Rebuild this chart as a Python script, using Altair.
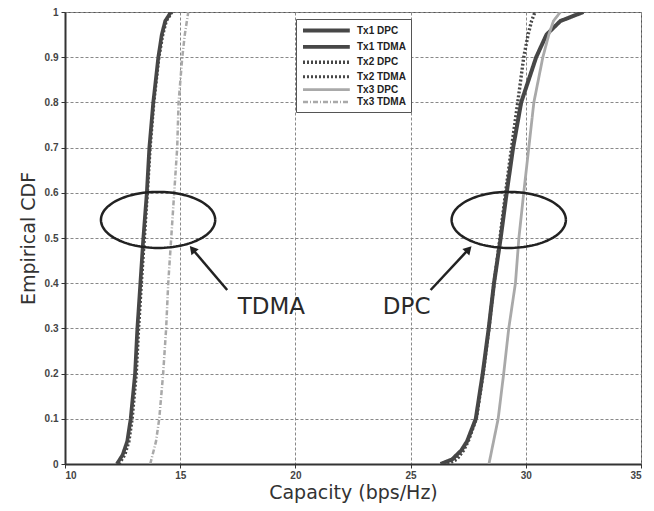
import altair as alt
import pandas as pd
import numpy as np

# ---- data ----
series_names = ["Tx1 DPC", "Tx1 TDMA", "Tx2 DPC", "Tx2 TDMA", "Tx3 DPC", "Tx3 TDMA"]

tx1_dpc_y = [0, 0.01, 0.03, 0.05, 0.1, 0.2, 0.3, 0.4, 0.5, 0.6, 0.7, 0.8, 0.9, 0.95, 0.98, 1.0]
tx1_dpc_x = [26.3, 26.8, 27.2, 27.45, 27.83, 28.13, 28.39, 28.62, 28.91, 29.17, 29.45, 29.8, 30.45, 30.9, 31.5, 32.5]

tx2_dpc_y = [0, 0.01, 0.03, 0.05, 0.1, 0.2, 0.3, 0.4, 0.5, 0.6, 0.7, 0.8, 0.9, 0.95, 0.98, 1.0]
tx2_dpc_x = [26.6, 27.0, 27.3, 27.5, 27.85, 28.15, 28.4, 28.62, 28.88, 29.12, 29.38, 29.65, 29.91, 30.1, 30.25, 30.4]

tx3_dpc_y = [0, 0.05, 0.1, 0.2, 0.3, 0.4, 0.5, 0.6, 0.7, 0.8, 0.9, 0.95, 0.98, 1.0]
tx3_dpc_x = [28.4, 28.6, 28.8, 29.04, 29.26, 29.55, 29.7, 29.91, 30.13, 30.35, 30.74, 31.0, 31.2, 31.5]

tx1_tdma_y = [0, 0.02, 0.05, 0.1, 0.2, 0.3, 0.4, 0.5, 0.6, 0.7, 0.8, 0.9, 0.95, 0.98, 1.0]
tx1_tdma_x = [12.25, 12.5, 12.7, 12.85, 13.04, 13.14, 13.27, 13.4, 13.55, 13.66, 13.83, 14.05, 14.2, 14.35, 14.6]

tx2_tdma_y = [0, 0.02, 0.05, 0.1, 0.2, 0.3, 0.4, 0.5, 0.6, 0.7, 0.8, 0.9, 0.95, 0.98, 1.0]
tx2_tdma_x = [12.35, 12.6, 12.78, 12.92, 13.1, 13.2, 13.32, 13.45, 13.58, 13.7, 13.86, 14.08, 14.25, 14.4, 14.65]

tx3_tdma_y = [0, 0.05, 0.1, 0.2, 0.3, 0.4, 0.5, 0.6, 0.7, 0.8, 0.9, 0.95, 1.0]
tx3_tdma_x = [13.7, 13.95, 14.09, 14.26, 14.39, 14.48, 14.61, 14.74, 14.87, 14.93, 15.09, 15.2, 15.35]

x_ticks = [10, 15, 20, 25, 30, 35]
y_ticks = [0, 0.1, 0.2, 0.3, 0.4, 0.5, 0.6, 0.7, 0.8, 0.9, 1.0]

# annotation parameters (data units)
ellipse_centers_x = [14.04, 29.26]
ellipse_center_y = 0.54
ellipse_rx = 2.48
ellipse_ry = 0.062
arrow_tail_x = [17.04, 25.87]
arrow_tip_x = [15.57, 27.48]
arrow_tail_y = 0.385
arrow_tip_y = 0.473
arrow_angles = [320, 43]
label_texts = ["TDMA", "DPC"]
label_x = [18.96, 24.83]
label_y = 0.347

# ---- build tables ----
rows = []
for name, xs, ys in [
    ("Tx1 DPC", tx1_dpc_x, tx1_dpc_y),
    ("Tx1 TDMA", tx1_tdma_x, tx1_tdma_y),
    ("Tx2 DPC", tx2_dpc_x, tx2_dpc_y),
    ("Tx2 TDMA", tx2_tdma_x, tx2_tdma_y),
    ("Tx3 DPC", tx3_dpc_x, tx3_dpc_y),
    ("Tx3 TDMA", tx3_tdma_x, tx3_tdma_y),
]:
    for i, (xv, yv) in enumerate(zip(xs, ys)):
        rows.append({"series": name, "cap": xv, "cdf": yv, "i": i})
df = pd.DataFrame(rows)

t = np.linspace(0, 2 * np.pi, 121)
ell_rows = []
for k, cx in enumerate(ellipse_centers_x):
    for i, tt in enumerate(t):
        ell_rows.append({"g": k, "i": i,
                         "x": cx + ellipse_rx * np.cos(tt),
                         "y": ellipse_center_y + ellipse_ry * np.sin(tt)})
ell_df = pd.DataFrame(ell_rows)

arr_df = pd.DataFrame({
    "x": arrow_tail_x, "y": [arrow_tail_y] * 2,
    "x2": arrow_tip_x, "y2": [arrow_tip_y] * 2,
    "angle": arrow_angles,
})
lab_df = pd.DataFrame({"text": label_texts, "x": label_x, "y": [label_y] * 2})

dark = "#474747"
light = "#a9a9a9"
colors = [dark, dark, dark, dark, light, light]
dashes = [[1, 0], [1, 0], [2, 2], [2, 2], [1, 0], [5, 2, 1, 2]]
widths = [4, 2.5, 2.5, 2.5, 2.5, 2.5]

xscale = alt.Scale(domain=[10, 35], nice=False, zero=False)
yscale = alt.Scale(domain=[0, 1], nice=False)

legend = alt.Legend(
    title=None, orient="none", legendX=231, legendY=7,
    symbolType="M-1,0H9.4", symbolSize=81, labelFont="Liberation Sans",
    labelFontSize=10, labelFontWeight="bold", labelColor="#222",
    fillColor="white", strokeColor="#555", padding=5, rowPadding=0.4,
    labelOffset=43, symbolOpacity=1,
)

lines = alt.Chart(df).mark_line(clip=True).encode(
    x=alt.X("cap:Q", scale=xscale,
            axis=alt.Axis(values=x_ticks, title="Capacity (bps/Hz)", format="d")),
    y=alt.Y("cdf:Q", scale=yscale,
            axis=alt.Axis(values=y_ticks, title="Empirical CDF", format="~g")),
    color=alt.Color("series:N", scale=alt.Scale(domain=series_names, range=colors), legend=legend),
    strokeDash=alt.StrokeDash("series:N", scale=alt.Scale(domain=series_names, range=dashes), legend=legend),
    strokeWidth=alt.StrokeWidth("series:N", scale=alt.Scale(domain=series_names, range=widths), legend=legend),
    order="i:Q",
    detail="series:N",
)

ellipses = alt.Chart(ell_df).mark_line(color="#222", strokeWidth=2.5).encode(
    x=alt.X("x:Q", scale=xscale), y=alt.Y("y:Q", scale=yscale),
    detail="g:N", order="i:Q",
)

arrows = alt.Chart(arr_df).mark_rule(color="#222", strokeWidth=2.5).encode(
    x="x:Q", y="y:Q", x2="x2:Q", y2="y2:Q",
)
heads = alt.Chart(arr_df).mark_point(shape="triangle", filled=True, color="#222",
                                     size=90, opacity=1).encode(
    x="x2:Q", y="y2:Q", angle=alt.Angle("angle:Q", scale=None),
)
labels = alt.Chart(lab_df).mark_text(font="DejaVu Sans", fontSize=23, color="#2a2a2a",
                                     align="center", baseline="middle").encode(
    x="x:Q", y="y:Q", text="text:N",
)

chart = alt.layer(lines, ellipses, arrows, heads, labels).properties(
    width=576, height=452,
    padding={"left": 57, "top": 4, "right": 5, "bottom": 42},
    autosize=alt.AutoSizeParams(type="none"),
).configure_view(
    stroke="#555", strokeWidth=1,
).configure_axis(
    grid=True, gridColor="#888", gridDash=[3, 2], gridWidth=1,
    domainColor="#333", domainWidth=2,
    tickColor="#333", tickSize=4,
    labelFont="Liberation Sans", labelFontSize=10, labelFontWeight="bold", labelColor="#444",
    titleFont="DejaVu Sans", titleFontSize=19, titleFontWeight="normal", titleColor="#333",
).configure_axisX(
    labelPadding=2, titlePadding=3,
).configure_axisY(
    titlePadding=6, labelPadding=3,
)

chart.save("out.html", embed_options={"renderer": "svg", "actions": False})
